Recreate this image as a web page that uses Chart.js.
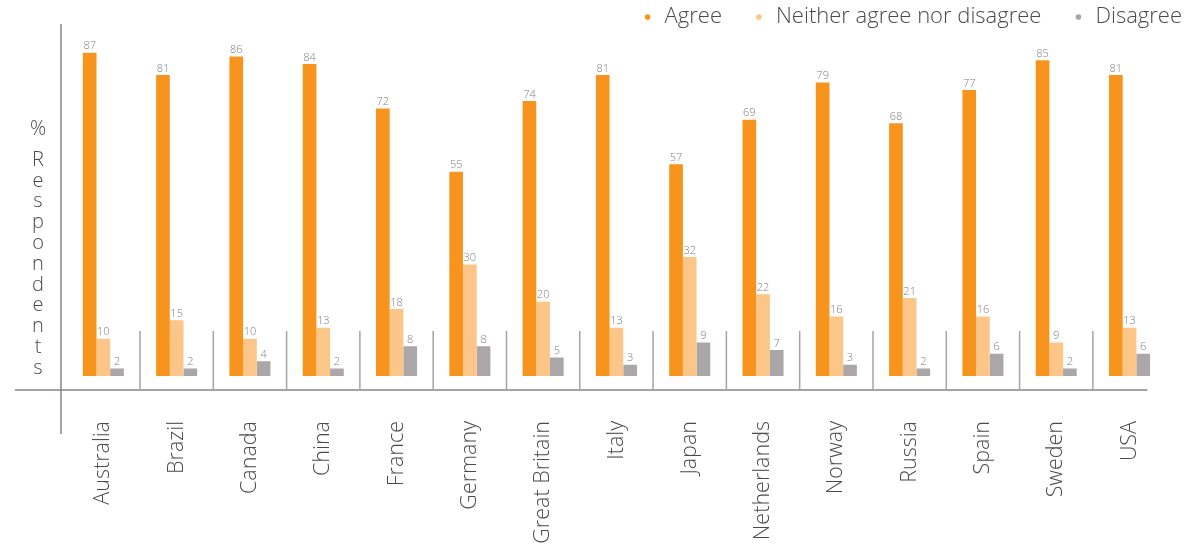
<!DOCTYPE html>
<html>
<head>
<meta charset="utf-8">
<script src="https://cdn.jsdelivr.net/npm/chart.js@4.4.1/dist/chart.umd.min.js"></script>
<style>
  html, body { margin: 0; padding: 0; background: #ffffff; }
  #wrap { width: 1187px; height: 547px; position: relative; }
</style>
</head>
<body>
<div id="wrap"><canvas id="c" width="1187" height="547"></canvas></div>
<script>
// Survey answers by country, % of respondents
const countries = ['Australia', 'Brazil', 'Canada', 'China', 'France', 'Germany', 'Great Britain',
  'Italy', 'Japan', 'Netherlands', 'Norway', 'Russia', 'Spain', 'Sweden', 'USA'];
const agree    = [87, 81, 86, 84, 72, 55, 74, 81, 57, 69, 79, 68, 77, 85, 81];
const neither  = [10, 15, 10, 13, 18, 30, 20, 13, 32, 22, 16, 21, 16,  9, 13];
const disagree = [ 2,  2,  4,  2,  8,  8,  5,  3,  9,  7,  3,  2,  6,  2,  6];
const seriesNames = ['Agree', 'Neither agree nor disagree', 'Disagree'];
const seriesColors = ['#F7941D', '#FDC689', '#ABA6A8'];
const yTitle = '% Respondents';

const FONT = '"Open Sans", Lato, "Noto Sans", sans-serif';
const TEXT_DARK = '#4a4a4a';
const AXIS_COLOR = '#8a8587';

// Axis frame: y line, x line running past the y line, short category dividers
const frame = {
  id: 'frame',
  afterDatasetsDraw(chart) {
    const { ctx, chartArea: a, scales: { x } } = chart;
    ctx.save();
    ctx.strokeStyle = AXIS_COLOR;
    ctx.lineWidth = 1.5;
    ctx.beginPath();
    const yx = a.left - 5.7;
    ctx.moveTo(yx, 24);
    ctx.lineTo(yx, a.bottom + 44);
    ctx.moveTo(15, a.bottom);
    ctx.lineTo(a.right - 18.7, a.bottom);
    ctx.stroke();
    ctx.strokeStyle = '#a8a4a6';
    ctx.beginPath();
    for (let i = 1; i < countries.length; i++) {
      const bx = (x.getPixelForValue(i - 1) + x.getPixelForValue(i)) / 2;
      ctx.moveTo(bx, a.bottom - 59);
      ctx.lineTo(bx, a.bottom);
    }
    ctx.stroke();
    ctx.restore();
  }
};

// Number above every bar, taken from the bar's own value
const valueLabels = {
  id: 'valueLabels',
  afterDatasetsDraw(chart) {
    const { ctx } = chart;
    ctx.save();
    ctx.font = '300 11px ' + FONT;
    ctx.fillStyle = '#7f7f7f';
    ctx.textAlign = 'center';
    ctx.textBaseline = 'bottom';
    chart.data.datasets.forEach((ds, di) => {
      const meta = chart.getDatasetMeta(di);
      meta.data.forEach((bar, i) => {
        ctx.fillText(String(ds.data[i]), bar.x, bar.y - 1);
      });
    });
    ctx.restore();
  }
};

// Y title written as upright letters stacked top to bottom
const stackedTitle = {
  id: 'stackedTitle',
  afterDraw(chart) {
    const { ctx, chartArea: a } = chart;
    const letters = yTitle.split('').filter(ch => ch !== ' ');
    ctx.save();
    ctx.font = '300 20px ' + FONT;
    ctx.fillStyle = TEXT_DARK;
    ctx.textAlign = 'center';
    ctx.textBaseline = 'middle';
    const cx = a.left - 28.7;
    let cy = 129;
    letters.forEach((ch, i) => {
      ctx.fillText(ch, cx, cy);
      cy += (i === 0) ? 31 : 20.8;
    });
    ctx.restore();
  }
};

// Legend sits flush with the right edge of the canvas
const legendRight = {
  id: 'legendRight',
  afterLayout(chart) {
    chart.legend.left += 46.3;
    chart.legend.right += 46.3;
  }
};

new Chart(document.getElementById('c'), {
  type: 'bar',
  data: {
    labels: countries,
    datasets: [
      { label: seriesNames[0], data: agree,    backgroundColor: seriesColors[0] },
      { label: seriesNames[1], data: neither,  backgroundColor: seriesColors[1] },
      { label: seriesNames[2], data: disagree, backgroundColor: seriesColors[2] }
    ]
  },
  options: {
    responsive: false,
    devicePixelRatio: 1,
    animation: false,
    events: [],
    layout: { padding: { top: -25, left: 66.7, right: 20.3, bottom: 0 } },
    datasets: { bar: { barPercentage: 1.0, categoryPercentage: 0.56, borderWidth: 0 } },
    plugins: {
      tooltip: { enabled: false },
      legend: {
        position: 'top',
        align: 'end',
        labels: {
          usePointStyle: true,
          pointStyle: 'circle',
          boxWidth: 12,
          boxHeight: 4,
          padding: 31,
          color: TEXT_DARK,
          font: { family: FONT, size: 22, weight: '300' }
        }
      }
    },
    scales: {
      x: {
        grid: { display: false, drawTicks: false },
        border: { display: false },
        ticks: {
          minRotation: 90,
          maxRotation: 90,
          autoSkip: false,
          padding: 31,
          color: TEXT_DARK,
          font: { family: FONT, size: 21.5, weight: '300' }
        },
        afterFit(scale) { scale.height = 157; }
      },
      y: {
        display: false,
        min: -3.77,
        max: 90.98
      }
    }
  },
  plugins: [frame, valueLabels, stackedTitle, legendRight]
});
</script>
</body>
</html>
